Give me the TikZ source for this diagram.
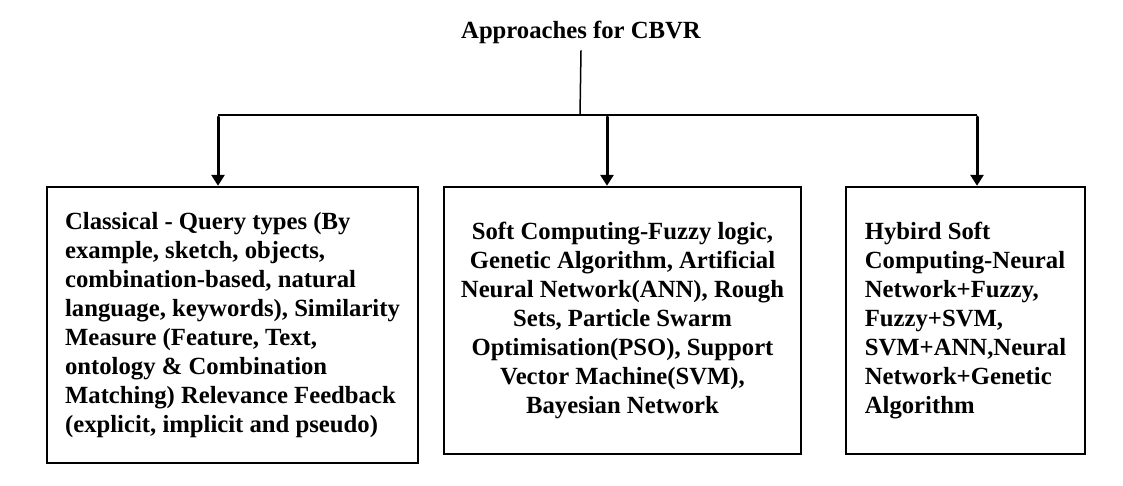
\documentclass[tikz,border=0pt]{standalone}
\usepackage{fontspec}
\setmainfont{Liberation Serif}
\usetikzlibrary{arrows.meta}

\tikzset{
  caixa/.style={draw, line width=2.4pt, inner sep=0pt,
    font=\fontsize{24.7}{29}\selectfont\bfseries},
  seta/.style={line width=3pt, line cap=round,
    -{Triangle[length=11pt, width=13pt]}}
}

\begin{document}
\begin{tikzpicture}[x=1pt, y=-1pt]
    \useasboundingbox (0,0) rectangle (1123,486);

    % Título
    \node[anchor=base, inner sep=6pt, font=\fontsize{24.7}{29}\selectfont\bfseries] (titulo) at (581,39) {Approaches for CBVR};

    % Caixas: centro x/centro y/largura/altura/alinhamento/texto
    \foreach \cx/\cy/\w/\h/\al/\txt [count=\i] in {
        232.5/325/371/276/left/{Classical - Query types (By\\example, sketch, objects,\\combination-based, natural\\language, keywords), Similarity\\Measure (Feature, Text,\\ontology \& Combination\\Matching) Relevance Feedback\\(explicit, implicit and pseudo)},
        622.5/320.5/357/267/center/{Soft Computing-Fuzzy logic,\\Genetic Algorithm, Artificial\\Neural Network(ANN), Rough\\Sets, Particle Swarm\\Optimisation(PSO), Support\\Vector Machine(SVM),\\Bayesian Network},
        965.5/320.5/239/267/left/{Hybird Soft\\Computing-Neural\\Network+Fuzzy,\\Fuzzy+SVM,\\SVM+ANN,Neural\\Network+Genetic\\Algorithm}} {
        \node[caixa, align=\al, minimum width=\w pt, minimum height=\h pt] (caixa\i) at (\cx,\cy) {\txt};
    }

    % Pontos de ramificação
    \coordinate (ramo) at (580,115);
    \coordinate (r1) at (218,115);
    \coordinate (r2) at (607,115);
    \coordinate (r3) at (977,115);

    % Tronco e linha horizontal
    \draw[line width=1.5pt] (titulo.south) -- (ramo);
    \draw[line width=2.4pt] (r1) -- (r3);

    % Setas para as caixas
    \foreach \i in {1,2,3} {
        \draw[seta] ([yshift=-2pt]r\i) -- (r\i |- caixa\i.north);
    }
\end{tikzpicture}
\end{document}
